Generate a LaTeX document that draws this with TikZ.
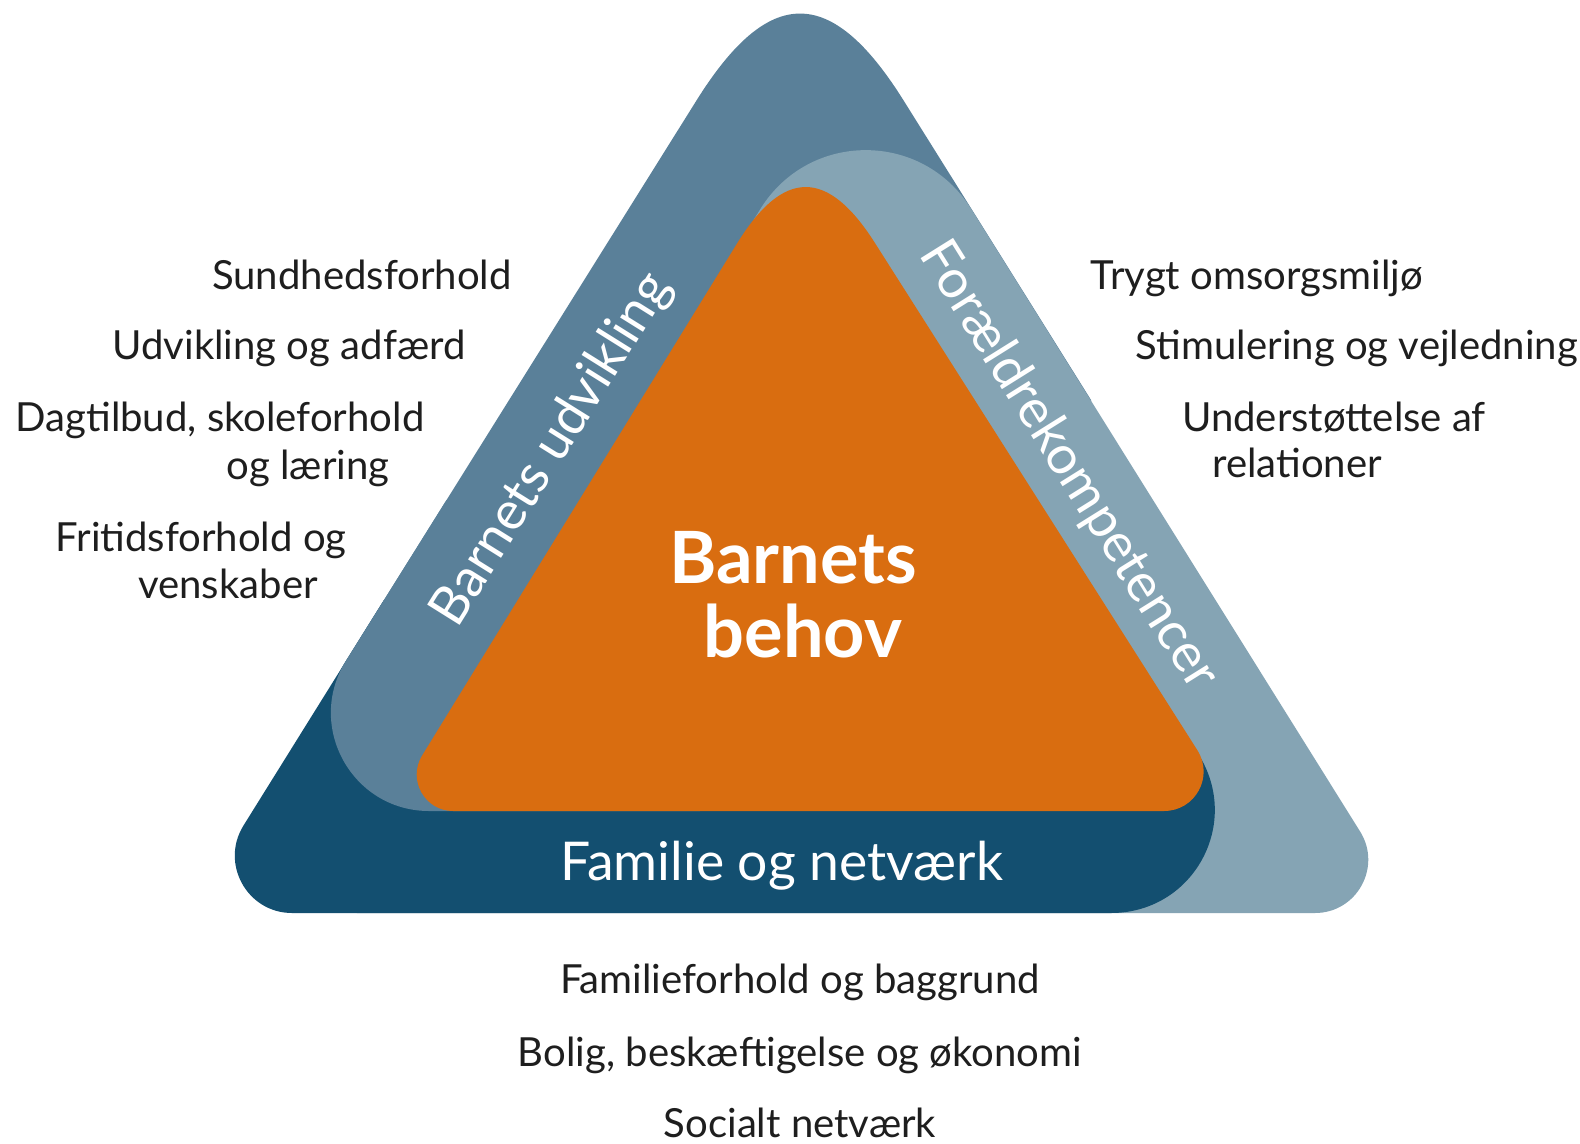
\documentclass[tikz,border=0pt]{standalone}
\usepackage{fontspec}
\setmainfont{Lato}
\usetikzlibrary{calc}
\definecolor{cM}{RGB}{90,128,153}
\definecolor{cL}{RGB}{133,164,180}
\definecolor{cD}{RGB}{19,79,112}
\definecolor{cO}{RGB}{217,109,16}
\definecolor{txt}{RGB}{30,30,30}
% corner, prev, next, tangent length, name, control factor
\newcommand\rcor[6]{%
  \path ($(#1)!#4!(#2)$) coordinate (#5a) ($(#1)!#4!(#3)$) coordinate (#5b);
  \path ($(#5a)!#6!(#1)$) coordinate (#5p) ($(#5b)!#6!(#1)$) coordinate (#5q);
}
\begin{document}
\begin{tikzpicture}[x=0.01cm,y=-0.01cm,
  lbl/.style={font=\fontsize{11.4}{13}\selectfont, text=txt, inner sep=0pt, anchor=base},
  band/.style={font=\fontsize{15.2}{17}\selectfont, text=white, inner sep=0pt},
  core/.style={font=\fontsize{20.5}{24}\selectfont\bfseries, text=white, inner sep=0pt, anchor=base}]
\useasboundingbox[fill=white] (0,0) rectangle (1580,1143);
% medium blue (outer)
\coordinate (A) at (800,-65);
\coordinate (MBL) at (252,811);
\coordinate (MB2) at (1100,811);
\coordinate (MB3) at (1091,400);
\rcor{A}{MB3}{MBL}{1.95cm}{ma}{0.7}
\rcor{MBL}{A}{MB2}{1.77cm}{mb}{0.435}
% light blue
\coordinate (LA) at (865,39);
\coordinate (LBL) at (327,913);
\coordinate (LBR) at (1411,913);
\rcor{LA}{LBR}{LBL}{2.0cm}{la}{0.462}
\rcor{LBL}{LA}{LBR}{0.3cm}{lb}{0.435}
\rcor{LBR}{LBL}{LA}{0.96cm}{lc}{0.435}
% dark navy
\coordinate (P1) at (384,600);
\coordinate (DBL) at (189,913);
\coordinate (DBR) at (1301,913);
\coordinate (P4) at (1131,650);
\rcor{DBL}{P1}{DBR}{1.03cm}{db}{0.435}
\rcor{DBR}{DBL}{P4}{1.9cm}{dc}{0.435}
% orange
\coordinate (OA) at (805,133);
\coordinate (OBL) at (388,811);
\coordinate (OBR) at (1236,811);
\rcor{OA}{OBR}{OBL}{1.3cm}{oa}{0.68}
\rcor{OBL}{OA}{OBR}{0.65cm}{ob}{0.435}
\rcor{OBR}{OBL}{OA}{0.72cm}{oc}{0.435}

\fill[cM] (mab) -- (mba) .. controls (mbp) and (mbq) .. (mbb) -- (MB2) -- (MB3) -- (maa) .. controls (map) and (maq) .. (mab) -- cycle;
\fill[cL] (lab) -- (lba) .. controls (lbp) and (lbq) .. (lbb) -- (lca) .. controls (lcp) and (lcq) .. (lcb) -- (laa) .. controls (lap) and (laq) .. (lab) -- cycle;
\fill[cD] (P1) -- (dba) .. controls (dbp) and (dbq) .. (dbb) -- (dca) .. controls (dcp) and (dcq) .. (dcb) -- (P4) -- cycle;
\begin{scope}
\clip (0,500) rectangle (700,1143);
\fill[cM] (mab) -- (mba) .. controls (mbp) and (mbq) .. (mbb) -- (MB2) -- (MB3) -- (maa) .. controls (map) and (maq) .. (mab) -- cycle;
\end{scope}
\fill[cO] (oab) -- (oba) .. controls (obp) and (obq) .. (obb) -- (oca) .. controls (ocp) and (ocq) .. (ocb) -- (oaa) .. controls (oap) and (oaq) .. (oab) -- cycle;

% band labels
\node[core] (c1) at (793,583) {Barnets};
\node[core] (c2) at (803,657) {behov};
\node[band, anchor=base] (fam) at (782,880) {Familie og netværk};
\node[band, rotate=58] (bu) at (552,450) {Barnets udvikling};
\node[band, rotate=-58] (fk) at (1068,466) {Forældrekompetencer};

% left texts
\node[lbl] (t1) at (362,290) {Sundhedsforhold};
\node[lbl] (t2) at (289,360) {Udvikling og adfærd};
\node[lbl] (t3) at (220,431) {Dagtilbud, skoleforhold};
\node[lbl] (t4) at (308,479) {og læring};
\node[lbl] (t5) at (201,551) {Fritidsforhold og};
\node[lbl] (t6) at (228,598) {venskaber};
% right texts
\node[lbl] (r1) at (1257,290) {Trygt omsorgsmiljø};
\node[lbl] (r2) at (1357,360) {Stimulering og vejledning};
\node[lbl] (r3) at (1334,431) {Understøttelse af};
\node[lbl] (r4) at (1297,477) {relationer};
% bottom texts
\node[lbl] (b1) at (800,993) {Familieforhold og baggrund};
\node[lbl] (b2) at (800,1066) {Bolig, beskæftigelse og økonomi};
\node[lbl] (b3) at (800,1137) {Socialt netværk};
\end{tikzpicture}
\end{document}
